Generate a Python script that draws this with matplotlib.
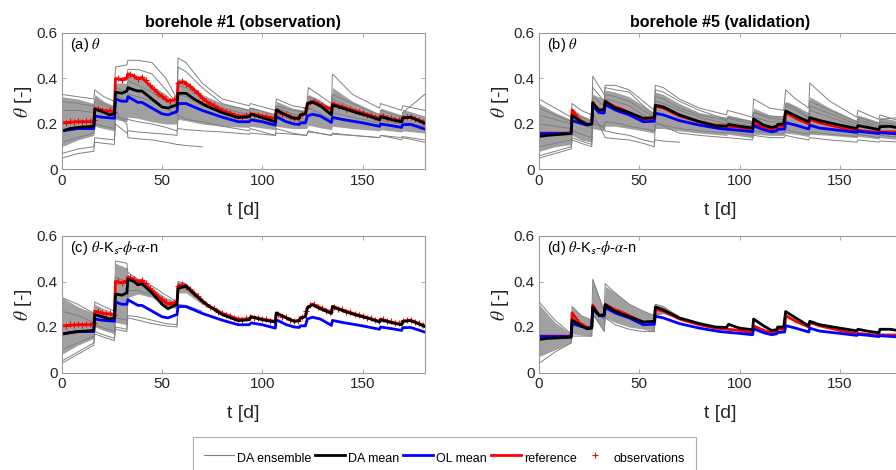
import matplotlib
matplotlib.use("Agg")
import matplotlib.pyplot as plt
from matplotlib.lines import Line2D
import numpy as np

plt.rcParams['font.family'] = ['Liberation Sans', 'DejaVu Sans']
plt.rcParams['mathtext.fontset'] = 'stix'

nan = np.nan

# ---- borehole #1 : reference, OL mean, DA means ----
ref1_t = [0, 8, 16, 16.5, 20, 26.3, 26.8, 30, 32.5, 33, 36, 38, 40, 45, 50, 53, 57.5, 58, 61, 66, 72, 80, 88,
          93.5, 94.5, 100, 106.5, 107, 112, 116, 118.5, 119, 121.5, 122.5, 125, 129, 134.5, 135, 140, 147, 153,
          158.5, 159, 165, 169.5, 170, 174, 181]
ref1_v = [0.205, 0.21, 0.21, 0.27, 0.26, 0.255, 0.40, 0.395, 0.40, 0.42, 0.41, 0.40, 0.405, 0.36, 0.32, 0.30,
          0.31, 0.38, 0.385, 0.35, 0.30, 0.26, 0.235, 0.235, 0.245, 0.235, 0.225, 0.26, 0.24, 0.225, 0.23, 0.24,
          0.245, 0.285, 0.30, 0.285, 0.265, 0.29, 0.275, 0.255, 0.24, 0.225, 0.235, 0.22, 0.212, 0.225, 0.23, 0.205]

da_t = [0, 4, 8, 16, 16.5, 20, 24, 26.3, 26.8, 30, 32.5, 33, 36, 38, 40, 45, 50, 53, 57.5, 58, 62, 66, 72, 80,
        88, 93.5, 94.5, 100, 106.5, 107, 112, 116, 118.5, 119, 121.5, 122.5, 125, 129, 134.5, 135, 140, 147, 153,
        158.5, 159, 165, 169.5, 170, 174, 181]
da1_v = [0.168, 0.18, 0.185, 0.19, 0.265, 0.255, 0.24, 0.245, 0.34, 0.335, 0.345, 0.36, 0.35, 0.345, 0.345, 0.31,
         0.275, 0.27, 0.285, 0.335, 0.335, 0.31, 0.28, 0.25, 0.228, 0.232, 0.243, 0.228, 0.21, 0.262, 0.238, 0.225,
         0.225, 0.24, 0.245, 0.29, 0.296, 0.28, 0.24, 0.284, 0.27, 0.25, 0.235, 0.218, 0.232, 0.218, 0.21, 0.227,
         0.23, 0.203]
da3_v = [0.168, 0.175, 0.18, 0.185, 0.255, 0.245, 0.235, 0.24, 0.345, 0.34, 0.35, 0.41, 0.40, 0.385, 0.39, 0.35,
         0.30, 0.28, 0.30, 0.37, 0.38, 0.345, 0.30, 0.255, 0.228, 0.232, 0.245, 0.232, 0.222, 0.262, 0.24, 0.225,
         0.228, 0.24, 0.245, 0.285, 0.298, 0.28, 0.26, 0.29, 0.272, 0.252, 0.238, 0.222, 0.232, 0.218, 0.21, 0.225,
         0.228, 0.203]

ol1_t = [0, 8, 16, 16.5, 20, 26.3, 26.8, 30, 32.5, 33, 38, 40, 45, 50, 53, 57.5, 58, 62, 70, 80, 88, 93.5, 94.5,
         100, 106.5, 107, 112, 116, 118.5, 119, 121.5, 122.5, 125, 129, 134.5, 135, 140, 150, 158.5, 159, 165,
         169.5, 170, 174, 181]
ol1_v = [0.17, 0.18, 0.18, 0.235, 0.23, 0.225, 0.31, 0.30, 0.30, 0.32, 0.295, 0.295, 0.27, 0.245, 0.24, 0.255,
         0.29, 0.29, 0.26, 0.23, 0.21, 0.21, 0.218, 0.21, 0.195, 0.232, 0.21, 0.20, 0.198, 0.205, 0.205, 0.235,
         0.243, 0.235, 0.207, 0.229, 0.22, 0.205, 0.19, 0.20, 0.192, 0.185, 0.197, 0.198, 0.178]

obs_t = np.arange(0, 181, 2)
obs_v = [0.210, 0.204, 0.212, 0.207, 0.215, 0.209, 0.214, 0.211, 0.216,
         0.270, 0.262, 0.259, 0.262, 0.254,
         0.402, 0.392, 0.405, 0.420, 0.412, 0.398, 0.408, 0.392, 0.371, 0.355, 0.334, 0.322, 0.309, 0.300, 0.310,
         0.382, 0.388, 0.375, 0.366, 0.348, 0.335, 0.316, 0.302, 0.288, 0.282, 0.268, 0.262, 0.252, 0.250, 0.240,
         0.237,
         0.232, 0.238, 0.243, 0.240, 0.240, 0.233, 0.234, 0.228, 0.225,
         0.258, 0.246, 0.242, 0.230, 0.228, 0.226, 0.244, 0.272, 0.297, 0.300, 0.288, 0.283, 0.272, 0.268,
         0.290, 0.279, 0.277, 0.267, 0.265, 0.256, 0.254, 0.249, 0.241, 0.239, 0.232, 0.228,
         0.235, 0.226, 0.225, 0.217, 0.216,
         0.226, 0.229, 0.232, 0.221, 0.216, 0.207]

# ---- borehole #5 : reference, OL mean, DA means ----
ref5_t = [0, 16, 16.5, 20, 24, 26.3, 26.8, 30, 32.5, 33, 38, 40, 45, 52, 57.5, 58, 62, 70, 80, 88, 94, 100,
          106.5, 107, 112, 116, 118.5, 119, 122.5, 123, 128, 134.5, 135, 140, 150, 158.5, 159, 169.5, 170, 181]
ref5_v = [0.16, 0.16, 0.262, 0.22, 0.198, 0.20, 0.296, 0.25, 0.255, 0.30, 0.275, 0.27, 0.25, 0.22, 0.222, 0.278,
          0.27, 0.235, 0.21, 0.195, 0.19, 0.185, 0.175, 0.205, 0.185, 0.175, 0.178, 0.19, 0.19, 0.25, 0.225, 0.20,
          0.22, 0.205, 0.185, 0.17, 0.172, 0.163, 0.165, 0.165]

da5_t = [0, 4, 16, 16.5, 20, 24, 26.3, 26.8, 30, 32.5, 33, 38, 40, 45, 52, 57.5, 58, 62, 70, 80, 88, 93.5, 94.5,
         100, 106.5, 107, 112, 116, 118.5, 119, 122, 123, 128, 134.5, 135, 140, 150, 158.5, 159, 165, 169.5, 170,
         175, 181]
da2_v = [0.145, 0.15, 0.158, 0.238, 0.215, 0.198, 0.20, 0.292, 0.26, 0.265, 0.30, 0.27, 0.265, 0.25, 0.225, 0.228,
         0.283, 0.275, 0.24, 0.21, 0.192, 0.19, 0.198, 0.19, 0.182, 0.222, 0.195, 0.185, 0.19, 0.198, 0.20, 0.257,
         0.235, 0.21, 0.228, 0.215, 0.195, 0.18, 0.193, 0.183, 0.175, 0.188, 0.19, 0.18]
da4_v = [0.145, 0.15, 0.155, 0.232, 0.21, 0.192, 0.195, 0.288, 0.25, 0.255, 0.298, 0.268, 0.262, 0.245, 0.222,
         0.225, 0.288, 0.275, 0.24, 0.215, 0.2, 0.198, 0.212, 0.195, 0.188, 0.235, 0.205, 0.185, 0.188, 0.2, 0.2,
         0.268, 0.24, 0.205, 0.225, 0.21, 0.195, 0.183, 0.19, 0.18, 0.175, 0.19, 0.19, 0.182]

ol5_t = [0, 16, 16.5, 20, 24, 26.3, 26.8, 30, 32.5, 33, 38, 40, 45, 52, 57.5, 58, 62, 70, 80, 90, 100, 106.5, 107,
         112, 116, 118.5, 119, 122.5, 123, 128, 134.5, 135, 140, 150, 158.5, 159, 169.5, 170, 181]
ol5_v = [0.158, 0.158, 0.215, 0.205, 0.195, 0.20, 0.28, 0.25, 0.248, 0.285, 0.262, 0.255, 0.24, 0.21, 0.212,
         0.247, 0.24, 0.215, 0.195, 0.18, 0.172, 0.166, 0.192, 0.175, 0.166, 0.17, 0.176, 0.178, 0.206, 0.195,
         0.178, 0.195, 0.182, 0.172, 0.163, 0.168, 0.158, 0.162, 0.155]

# ---- ensembles: dense core (lo/hi) and single members, on one time grid ----
ens_t = [0, 8, 16, 16.5, 21, 26.3, 26.8, 32.5, 33, 38, 45, 52, 57.5, 58, 62, 70, 80, 93.5, 94, 106.5, 107,
         115, 122, 123, 128, 134.5, 135, 145, 158.5, 159, 169.5, 170, 181]
N17 = [nan] * 17  # members that stop / merge after t = 70

core_lo_a = [0.10, 0.13, 0.15, 0.19, 0.18, 0.17, 0.22, 0.21, 0.23, 0.225, 0.21, 0.20, 0.20, 0.22, 0.215, 0.20,
             0.19, 0.185, 0.19, 0.175, 0.19, 0.18, 0.18, 0.195, 0.185, 0.175, 0.19, 0.18, 0.17, 0.175, 0.165,
             0.17, 0.16]
core_hi_a = [0.32, 0.31, 0.29, 0.33, 0.30, 0.28, 0.38, 0.38, 0.43, 0.41, 0.37, 0.33, 0.29, 0.40, 0.39, 0.33,
             0.29, 0.265, 0.275, 0.245, 0.30, 0.27, 0.26, 0.33, 0.31, 0.27, 0.36, 0.30, 0.245, 0.27, 0.24, 0.265,
             0.235]
members_a = [
    [0.33, 0.32, 0.31, 0.35, 0.32, 0.30, 0.45, 0.46, 0.48, 0.48, 0.47, 0.40, 0.31, 0.49, 0.47, 0.38, 0.31, 0.28,
     0.29, 0.26, 0.31, 0.28, 0.27, 0.36, 0.33, 0.29, 0.42, 0.33, 0.27, 0.29, 0.26, 0.28, 0.26],
    [0.30, 0.29, 0.28, 0.31, 0.29, 0.27, 0.40, 0.40, 0.44, 0.44, 0.42, 0.35, 0.29, 0.45, 0.43, 0.36, 0.29, 0.26,
     0.27, 0.24, 0.28, 0.26, 0.25, 0.32, 0.30, 0.26, 0.33, 0.29, 0.24, 0.26, 0.23, 0.25, 0.33],
    [0.07, 0.09, 0.10, 0.14, 0.135, 0.13, 0.20, 0.16, 0.17, 0.165, 0.16, 0.155, 0.15, 0.24, 0.22, 0.21, 0.19,
     0.17, 0.18, 0.15, 0.18, 0.16, 0.15, 0.17, 0.16, 0.15, 0.16, 0.15, 0.14, 0.15, 0.14, 0.145, 0.13],
    [0.05, 0.07, 0.08, 0.12, 0.115, 0.11, 0.25, 0.20, 0.14, 0.135, 0.13, 0.12, 0.11, 0.11, 0.105, 0.10] + N17,
    [0.12, 0.14, 0.16, 0.20, 0.19, 0.18, 0.23, 0.22, 0.22, 0.21, 0.20, 0.185, 0.17, 0.18, 0.175, 0.17, 0.165,
     0.155, 0.16, 0.15, 0.16, 0.155, 0.15, 0.165, 0.16, 0.15, 0.155, 0.15, 0.14, 0.15, 0.13, 0.14, 0.12],
    [0.20, 0.21, 0.22, 0.27, 0.255, 0.24, 0.33, 0.30, 0.33, 0.32, 0.30, 0.27, 0.24, 0.33, 0.32, 0.28, 0.25, 0.22,
     0.225, 0.205, 0.24, 0.22, 0.21, 0.27, 0.25, 0.22, 0.25, 0.23, 0.205, 0.215, 0.20, 0.21, 0.19],
    [0.26, 0.26, 0.25, 0.30, 0.28, 0.26, 0.36, 0.34, 0.39, 0.37, 0.34, 0.30, 0.27, 0.37, 0.36, 0.31, 0.27, 0.24,
     0.25, 0.225, 0.27, 0.245, 0.235, 0.30, 0.28, 0.245, 0.31, 0.27, 0.225, 0.245, 0.22, 0.235, 0.215],
]

core_lo_b = [0.08, 0.10, 0.11, 0.15, 0.13, 0.12, 0.18, 0.17, 0.19, 0.19, 0.18, 0.17, 0.16, 0.18, 0.18, 0.17,
             0.16, 0.15, 0.155, 0.14, 0.155, 0.15, 0.15, 0.16, 0.155, 0.145, 0.155, 0.15, 0.14, 0.145, 0.135,
             0.14, 0.13]
core_hi_b = [0.29, 0.25, 0.22, 0.27, 0.24, 0.22, 0.33, 0.31, 0.35, 0.34, 0.32, 0.28, 0.25, 0.34, 0.33, 0.29,
             0.25, 0.23, 0.24, 0.215, 0.27, 0.24, 0.235, 0.30, 0.28, 0.25, 0.32, 0.27, 0.215, 0.24, 0.21, 0.23,
             0.21]
members_b = [
    [0.31, 0.27, 0.23, 0.29, 0.26, 0.24, 0.41, 0.33, 0.37, 0.37, 0.35, 0.30, 0.26, 0.37, 0.36, 0.31, 0.27, 0.24,
     0.26, 0.23, 0.31, 0.27, 0.26, 0.35, 0.31, 0.27, 0.38, 0.30, 0.23, 0.26, 0.22, 0.24, 0.21],
    [0.27, 0.24, 0.21, 0.26, 0.23, 0.21, 0.36, 0.30, 0.36, 0.35, 0.34, 0.28, 0.24, 0.35, 0.34, 0.30, 0.26, 0.22,
     0.23, 0.21, 0.25, 0.235, 0.23, 0.29, 0.27, 0.23, 0.30, 0.26, 0.21, 0.23, 0.20, 0.22, 0.23],
    [0.05, 0.07, 0.09, 0.13, 0.115, 0.10, 0.25, 0.15, 0.14, 0.135, 0.13, 0.115, 0.10, 0.21, 0.19, 0.16, 0.15,
     0.14, 0.14, 0.13, 0.15, 0.14, 0.14, 0.15, 0.14, 0.13, 0.14, 0.13, 0.12, 0.13, 0.12, 0.125, 0.12],
    [0.06, 0.08, 0.10, 0.14, 0.125, 0.11, 0.22, 0.18, 0.17, 0.16, 0.15, 0.13, 0.12, 0.13, 0.125, 0.12] + N17,
    [0.10, 0.115, 0.13, 0.17, 0.155, 0.14, 0.20, 0.19, 0.21, 0.205, 0.19, 0.18, 0.17, 0.20, 0.195, 0.18, 0.17,
     0.16, 0.165, 0.15, 0.17, 0.16, 0.16, 0.175, 0.165, 0.155, 0.165, 0.155, 0.145, 0.155, 0.14, 0.15, 0.14],
    [0.20, 0.19, 0.18, 0.23, 0.205, 0.18, 0.29, 0.26, 0.31, 0.30, 0.28, 0.24, 0.21, 0.30, 0.29, 0.26, 0.23, 0.20,
     0.21, 0.19, 0.23, 0.21, 0.21, 0.26, 0.24, 0.21, 0.26, 0.23, 0.19, 0.21, 0.18, 0.20, 0.185],
    [0.24, 0.22, 0.20, 0.25, 0.22, 0.20, 0.32, 0.28, 0.33, 0.32, 0.30, 0.26, 0.23, 0.32, 0.31, 0.27, 0.24, 0.215,
     0.225, 0.20, 0.25, 0.225, 0.22, 0.28, 0.26, 0.225, 0.28, 0.245, 0.20, 0.22, 0.19, 0.21, 0.195],
]

core_lo_c = [0.08, 0.12, 0.15, 0.20, 0.185, 0.17, 0.22, 0.21, 0.33, 0.345, 0.33, 0.29, 0.28, 0.35, 0.35,
             0.30] + N17
core_hi_c = [0.33, 0.29, 0.26, 0.30, 0.28, 0.26, 0.48, 0.46, 0.43, 0.40, 0.37, 0.33, 0.31, 0.40, 0.39,
             0.32] + N17
members_c = [
    [0.05, 0.09, 0.13, 0.18, 0.165, 0.15, 0.20, 0.19, 0.24, 0.23, 0.215, 0.205, 0.20, 0.29, 0.285, 0.26] + N17,
    [0.10, 0.13, 0.16, 0.21, 0.195, 0.18, 0.24, 0.23, 0.25, 0.245, 0.23, 0.215, 0.21, 0.30, 0.295, 0.27] + N17,
    [0.33, 0.30, 0.26, 0.31, 0.29, 0.27, 0.49, 0.48, 0.44, 0.41, 0.38, 0.34, 0.31, 0.40, 0.39, 0.32] + N17,
    [0.04, 0.08, 0.12, 0.17, 0.155, 0.14, 0.19, 0.18, 0.36, 0.36, 0.34, 0.30, 0.29, 0.37, 0.37, 0.31] + N17,
    [0.27, 0.25, 0.22, 0.27, 0.25, 0.23, 0.42, 0.40, 0.42, 0.39, 0.36, 0.31, 0.30, 0.39, 0.385, 0.315] + N17,
]

core_lo_d = [0.07, 0.10, 0.13, 0.17, 0.165, 0.16, 0.25, 0.18, 0.24, 0.22, 0.20, 0.19, 0.18, 0.25, 0.26,
             0.235] + N17
core_hi_d = [0.30, 0.22, 0.17, 0.29, 0.25, 0.23, 0.41, 0.27, 0.38, 0.35, 0.30, 0.27, 0.25, 0.30, 0.29,
             0.245] + N17
members_d = [
    [0.31, 0.23, 0.17, 0.29, 0.25, 0.23, 0.41, 0.27, 0.39, 0.35, 0.30, 0.27, 0.25, 0.30, 0.29, 0.245] + N17,
    [0.04, 0.09, 0.13, 0.16, 0.16, 0.16, 0.26, 0.18, 0.24, 0.21, 0.19, 0.18, 0.18, 0.255, 0.26, 0.24] + N17,
    [0.15, 0.15, 0.15, 0.22, 0.20, 0.19, 0.30, 0.23, 0.30, 0.28, 0.25, 0.22, 0.21, 0.28, 0.275, 0.24] + N17,
]

panels = [
    dict(pos=(61.7, 33), label=r'(a) $\theta$', lo=core_lo_a, hi=core_hi_a, mem=members_a,
         ref=(ref1_t, ref1_v), ol=(ol1_t, ol1_v), da=(da_t, da1_v), obs=True,
         title='borehole #1 (observation)'),
    dict(pos=(539, 33), label=r'(b) $\theta$', lo=core_lo_b, hi=core_hi_b, mem=members_b,
         ref=(ref5_t, ref5_v), ol=(ol5_t, ol5_v), da=(da5_t, da2_v), obs=False,
         title='borehole #5 (validation)'),
    dict(pos=(61.7, 236), label=r'(c) $\theta$-K$_\mathsf{s}$-$\phi$-$\alpha$-n', lo=core_lo_c, hi=core_hi_c,
         mem=members_c, ref=(ref1_t, ref1_v), ol=(ol1_t, ol1_v), da=(da_t, da3_v), obs=True, title=None),
    dict(pos=(539, 236), label=r'(d) $\theta$-K$_\mathsf{s}$-$\phi$-$\alpha$-n', lo=core_lo_d, hi=core_hi_d,
         mem=members_d, ref=(ref5_t, ref5_v), ol=(ol5_t, ol5_v), da=(da5_t, da4_v), obs=False, title=None),
]

W, H = 896, 470
fig = plt.figure(figsize=(W / 100, H / 100), dpi=100)

ens_col = '#808080'
box_col = '#9a9a9a'
txt_col = '#262626'

for p in panels:
    x0, y0 = p['pos']
    ax = fig.add_axes([x0 / W, 1 - (y0 + 136.5) / H, 363 / W, 136.5 / H])
    ax.fill_between(ens_t, p['lo'], p['hi'], color='#a0a0a0', lw=0)
    for m in p['mem']:
        ax.plot(ens_t, m, color=ens_col, lw=0.7)
    ax.plot(*p['ref'], color='red', lw=2)
    if p['obs']:
        ax.plot(obs_t, obs_v, '+', color='red', ms=5, mew=0.8)
    ax.plot(*p['ol'], color='blue', lw=2)
    ax.plot(*p['da'], color='black', lw=2)

    ax.set_xlim(0, 181)
    ax.set_ylim(0, 0.6)
    ax.set_xticks([0, 50, 100, 150])
    ax.set_yticks([0, 0.2, 0.4, 0.6])
    ax.set_yticklabels(['0', '0.2', '0.4', '0.6'])
    ax.tick_params(direction='in', length=3, width=0.6, colors=box_col, labelcolor=txt_col,
                   labelsize=11, top=True, right=True, pad=3)
    for s in ax.spines.values():
        s.set_color(box_col)
        s.set_linewidth(0.8)
    ax.set_xlabel('t [d]', fontsize=14, color=txt_col, labelpad=10)
    ax.set_ylabel(r'$\theta$ [-]', fontsize=14, color=txt_col, labelpad=2)
    ax.text(0.022, 0.91, p['label'], transform=ax.transAxes, fontsize=10.5, color='black', va='center')
    if p['title']:
        ax.set_title(p['title'], fontsize=11.5, fontweight='bold', pad=4)

handles = [
    Line2D([], [], color=ens_col, lw=0.8),
    Line2D([], [], color='black', lw=2),
    Line2D([], [], color='blue', lw=2),
    Line2D([], [], color='red', lw=2),
    Line2D([], [], color='red', ls='none', marker='+', ms=5, mew=0.8),
]
labels = ['DA ensemble', 'DA mean', 'OL mean', 'reference', 'observations']
leg = fig.legend(handles, labels, loc='upper center', bbox_to_anchor=(0.496, 1 - 437 / H), ncol=5,
                 fontsize=9, frameon=True, fancybox=False, handlelength=2.4, handletextpad=0.25,
                 handleheight=1.9, columnspacing=0.3, borderpad=0.9, borderaxespad=0)
leg.get_frame().set_edgecolor(box_col)
leg.get_frame().set_linewidth(0.8)

fig.savefig('out.png', dpi=100)
